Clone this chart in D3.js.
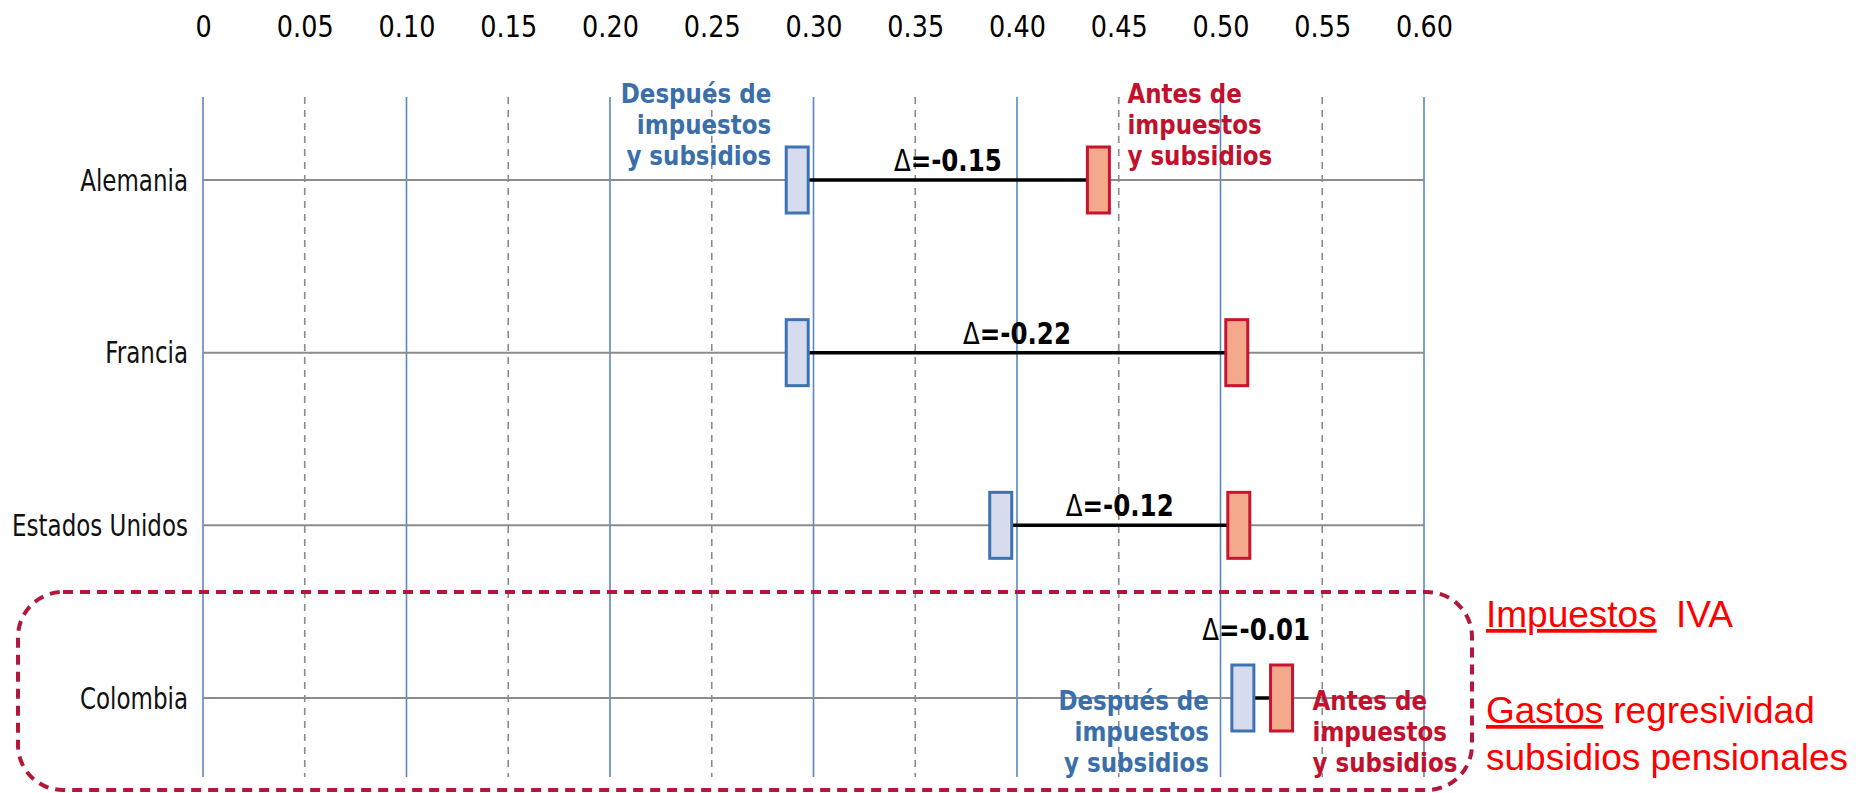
<!DOCTYPE html>
<html>
<head>
<meta charset="utf-8">
<script src="https://cdn.jsdelivr.net/npm/d3@7/dist/d3.min.js"></script>
<style>
  body { margin: 0; background: #fff; }
  svg { display: block; font-family: "DejaVu Sans", Verdana, sans-serif; }
</style>
</head>
<body>
<svg width="1862" height="793"></svg>
<script>
// datos (Gini antes / despues de impuestos y subsidios)
const paises = ['Alemania', 'Francia', 'Estados Unidos', 'Colombia'];
const despues = [0.292, 0.292, 0.392, 0.511];
const antes = [0.440, 0.508, 0.509, 0.530];
const deltas = ['-0.15', '-0.22', '-0.12', '-0.01'];
const tickValores = [0, 0.05, 0.10, 0.15, 0.20, 0.25, 0.30, 0.35, 0.40, 0.45, 0.50, 0.55, 0.60];
const tickTextos = ['0', '0.05', '0.10', '0.15', '0.20', '0.25', '0.30', '0.35', '0.40', '0.45', '0.50', '0.55', '0.60'];
const etiquetaDespues = ['Después de', 'impuestos', 'y subsidios'];
const etiquetaAntes = ['Antes de', 'impuestos', 'y subsidios'];

const svg = d3.select('svg');

const x = d3.scaleLinear().domain([0, 0.6]).range([203, 1424]);
const y = d3.scalePoint().domain(paises).range([180, 698]);

const boxW = 22, boxH = 66;
const azul = '#3a6faa', rojo = '#c0112d';

// rejilla vertical: solida cada 0.1, punteada en los 0.05
svg.append('g').selectAll('line')
  .data(tickValores)
  .enter().append('line')
    .attr('x1', d => x(d)).attr('x2', d => x(d))
    .attr('y1', 97).attr('y2', 777)
    .attr('stroke', (d, i) => i % 2 === 0 ? '#5a88bd' : '#8a8a8a')
    .attr('stroke-width', 1.6)
    .attr('stroke-dasharray', (d, i) => i % 2 === 0 ? null : '7,6');

// eje de arriba
const ejeX = svg.append('g')
  .attr('transform', 'translate(0,37)')
  .call(d3.axisTop(x).tickValues(tickValores).tickFormat((d, i) => tickTextos[i]).tickSize(0));
ejeX.select('.domain').remove();
ejeX.selectAll('text')
  .attr('y', 0).attr('dy', null)
  .attr('transform', 'scale(1,1.2)')
  .style('font-size', '25.5px')
  .style('font-family', '"DejaVu Sans", Verdana, sans-serif')
  .attr('fill', '#000');

// eje de paises
const ejeY = svg.append('g')
  .attr('transform', 'translate(188,0)')
  .call(d3.axisLeft(y).tickSize(0).tickPadding(0));
ejeY.select('.domain').remove();
ejeY.selectAll('text')
  .attr('x', 0).attr('dy', null)
  .attr('transform', 'translate(0,10) scale(1,1.3)')
  .style('font-size', '23px')
  .style('font-family', '"DejaVu Sans", Verdana, sans-serif')
  .attr('fill', '#111');

// lineas horizontales de cada pais
svg.append('g').selectAll('line')
  .data(paises)
  .enter().append('line')
    .attr('x1', x(0)).attr('x2', x(0.6))
    .attr('y1', d => y(d)).attr('y2', d => y(d))
    .attr('stroke', '#8c8c8c')
    .attr('stroke-width', 2);

// conector negro
svg.append('g').selectAll('line')
  .data(paises)
  .enter().append('line')
    .attr('x1', (d, i) => x(despues[i]) + boxW / 2)
    .attr('x2', (d, i) => x(antes[i]) - boxW / 2)
    .attr('y1', d => y(d)).attr('y2', d => y(d))
    .attr('stroke', '#000')
    .attr('stroke-width', 3.5);

// cajas despues (azul) y antes (rojo)
svg.append('g').selectAll('rect')
  .data(paises)
  .enter().append('rect')
    .attr('x', (d, i) => x(despues[i]) - boxW / 2)
    .attr('y', d => y(d) - boxH / 2)
    .attr('width', boxW).attr('height', boxH)
    .attr('fill', '#d6dcee')
    .attr('stroke', '#3d73b3')
    .attr('stroke-width', 3);

svg.append('g').selectAll('rect')
  .data(paises)
  .enter().append('rect')
    .attr('x', (d, i) => x(antes[i]) - boxW / 2)
    .attr('y', d => y(d) - boxH / 2)
    .attr('width', boxW).attr('height', boxH)
    .attr('fill', '#f5a98c')
    .attr('stroke', '#c8142e')
    .attr('stroke-width', 3);

// etiquetas delta
paises.forEach((p, i) => {
  const izq = x(despues[i]) + boxW / 2;
  const der = x(antes[i]) - boxW / 2;
  const cerca = der - izq < 120;
  const cx = cerca ? (izq + der) / 2 - 6 : (izq + der) / 2;
  const base = cerca ? y(p) - boxH / 2 - 25 : y(p) - 9;
  const t = svg.append('g')
    .attr('transform', `translate(${cx},${base}) scale(1,1.25)`)
    .append('text')
      .attr('text-anchor', 'middle')
      .style('font-size', '24.5px')
      .attr('fill', '#000');
  t.append('tspan').text('Δ');
  t.append('tspan').style('font-weight', 'bold').text('=' + deltas[i]);
});

// textos "Despues de / Antes de"
function bloque(lineas, xx, base0, ancla, color) {
  lineas.forEach((l, k) => {
    svg.append('g')
      .attr('transform', `translate(${xx},${base0 + k * 31}) scale(1,1.15)`)
      .append('text')
        .attr('text-anchor', ancla)
        .style('font-size', '23px')
        .style('font-weight', 'bold')
        .attr('fill', color)
        .text(l);
  });
}
// Alemania: encima de la linea
bloque(etiquetaDespues, x(despues[0]) - boxW / 2 - 15, y(paises[0]) - 77, 'end', azul);
bloque(etiquetaAntes, x(antes[0]) + boxW / 2 + 18, y(paises[0]) - 77, 'start', rojo);
// Colombia: debajo de la linea
bloque(etiquetaDespues, x(despues[3]) - boxW / 2 - 23, y(paises[3]) + 12, 'end', azul);
bloque(etiquetaAntes, x(antes[3]) + boxW / 2 + 20, y(paises[3]) + 12, 'start', rojo);

// recuadro punteado de Colombia
svg.append('rect')
  .attr('x', 18).attr('y', y('Colombia') - 106)
  .attr('width', 1454).attr('height', 198)
  .attr('rx', 45).attr('ry', 45)
  .attr('fill', 'none')
  .attr('stroke', '#b5173c')
  .attr('stroke-width', 4)
  .attr('stroke-dasharray', '10,7');

// nota a la derecha
const nota = svg.append('g')
  .style('font-family', '"Liberation Sans", Arial, sans-serif')
  .style('font-size', '37px')
  .attr('fill', '#ff0000');
nota.append('text').attr('x', 1486).attr('y', 627)
  .style('text-decoration', 'underline').text('Impuestos');
nota.append('text').attr('x', 1676).attr('y', 627).text('IVA');
const g2 = nota.append('text').attr('x', 1486).attr('y', 723);
g2.append('tspan').style('text-decoration', 'underline').text('Gastos');
g2.append('tspan').attr('dx', 10).text('regresividad');
nota.append('text').attr('x', 1486).attr('y', 770).text('subsidios pensionales');
</script>
</body>
</html>
